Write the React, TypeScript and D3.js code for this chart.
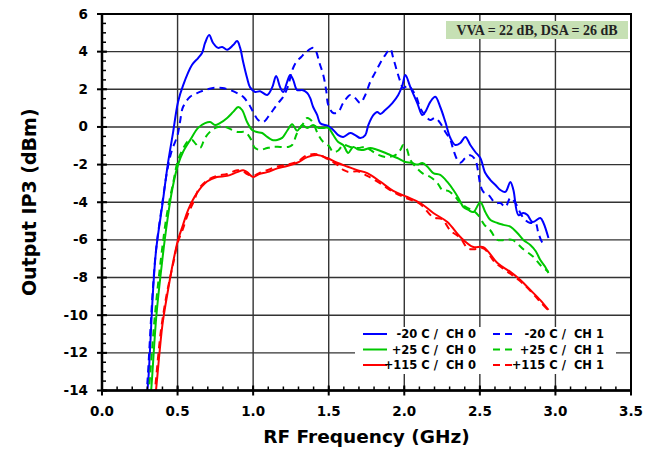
import React from "react";
import * as d3 from "d3";

type P = [number, number];

// -20 C / CH 0
const cold0: P[] = [[0.295,-14.3],[0.305,-13.6],[0.338,-8.66],[0.358,-6.54],[0.40,-4.1],[0.437,-1.9],[0.47,-0.3],[0.503,1.33],[0.536,2.2],[0.596,3.3],[0.636,3.66],[0.662,3.93],[0.682,4.46],[0.709,4.88],[0.735,4.46],[0.768,4.2],[0.795,4.25],[0.828,4.1],[0.868,4.35],[0.894,4.56],[0.914,4.2],[0.934,3.45],[0.96,2.6],[0.98,2.1],[1.013,1.86],[1.046,1.9],[1.093,1.7],[1.126,2.1],[1.152,2.7],[1.179,2.1],[1.199,1.85],[1.225,2.4],[1.245,2.76],[1.265,2.5],[1.291,1.96],[1.325,1.96],[1.358,1.8],[1.377,1.54],[1.397,1.06],[1.424,0.63],[1.444,0.2],[1.497,0.05],[1.53,-0.16],[1.563,-0.43],[1.596,-0.53],[1.642,-0.32],[1.675,-0.43],[1.709,-0.59],[1.742,-0.43],[1.762,0.1],[1.795,0.63],[1.821,0.8],[1.841,0.69],[1.874,0.9],[1.921,1.27],[1.96,1.7],[1.987,2.2],[2.007,2.76],[2.04,2.12],[2.086,1.27],[2.119,0.63],[2.139,0.8],[2.172,1.33],[2.205,1.6],[2.238,1.06],[2.272,0.26],[2.305,-0.59],[2.338,-0.96],[2.371,-0.85],[2.404,-0.53],[2.437,-0.96],[2.47,-1.33],[2.503,-1.65],[2.536,-2.45],[2.57,-2.82],[2.603,-3.08],[2.636,-3.35],[2.669,-3.45],[2.702,-2.92],[2.722,-3.35],[2.755,-4.68],[2.788,-4.57],[2.815,-4.68],[2.848,-5.05],[2.9,-4.84],[2.921,-5.1],[2.954,-5.9]];

// -20 C / CH 1
const cold1: P[] = [[0.292,-14.3],[0.30,-13.6],[0.335,-8.8],[0.358,-6.5],[0.40,-4.0],[0.43,-2.4],[0.46,-1.3],[0.50,-0.43],[0.516,0.26],[0.536,1.06],[0.583,1.6],[0.629,1.8],[0.682,1.96],[0.735,2.07],[0.795,2.07],[0.848,1.96],[0.894,1.8],[0.934,1.6],[0.967,1.27],[1.0,0.8],[1.033,0.37],[1.066,0.26],[1.099,0.53],[1.132,0.9],[1.166,1.27],[1.199,1.6],[1.232,2.2],[1.258,3.0],[1.285,3.45],[1.318,3.72],[1.351,3.98],[1.397,4.2],[1.417,4.0],[1.437,3.45],[1.464,2.76],[1.483,1.96],[1.497,1.17],[1.53,0.74],[1.563,0.8],[1.596,1.27],[1.642,1.7],[1.675,1.54],[1.709,1.27],[1.742,1.7],[1.775,2.4],[1.808,2.9],[1.841,3.4],[1.874,3.82],[1.907,4.14],[1.927,3.66],[1.954,2.9],[1.974,2.4],[1.993,2.07],[2.026,2.2],[2.053,1.96],[2.08,1.6],[2.106,1.0],[2.139,0.6],[2.172,0.37],[2.205,0.48],[2.238,0.2],[2.272,-0.27],[2.305,-0.69],[2.325,-1.22],[2.351,-1.75],[2.371,-1.9],[2.404,-1.65],[2.437,-1.5],[2.47,-1.75],[2.49,-2.45],[2.503,-3.08],[2.523,-3.45],[2.556,-3.6],[2.603,-4.04],[2.636,-4.04],[2.669,-4.25],[2.702,-3.77],[2.735,-4.04],[2.768,-4.57],[2.8,-4.94],[2.834,-5.1],[2.868,-5.1],[2.887,-5.63],[2.914,-6.16],[2.93,-6.27]];

// +25 C / CH 0
const room0: P[] = [[0.32,-14.3],[0.325,-14],[0.36,-10],[0.40,-7],[0.43,-5.1],[0.464,-3.35],[0.503,-2.0],[0.536,-1.33],[0.583,-0.7],[0.636,-0.05],[0.682,0.2],[0.715,0.26],[0.748,0.1],[0.78,0.2],[0.828,0.48],[0.868,0.8],[0.901,1.06],[0.927,0.9],[0.96,0.26],[0.993,-0.16],[1.026,-0.27],[1.06,-0.32],[1.093,-0.53],[1.126,-0.69],[1.159,-0.69],[1.192,-0.58],[1.225,-0.2],[1.258,0.15],[1.291,-0.2],[1.325,0.1],[1.358,-0.05],[1.397,0.1],[1.43,-0.05],[1.464,-0.05],[1.497,-0.05],[1.53,-0.43],[1.563,-0.8],[1.596,-0.96],[1.629,-1.38],[1.662,-1.06],[1.695,-1.2],[1.728,-1.22],[1.775,-1.12],[1.815,-1.2],[1.86,-1.33],[1.907,-1.49],[1.954,-1.65],[2.007,-1.86],[2.046,-1.9],[2.086,-2.0],[2.119,-1.92],[2.152,-2.1],[2.192,-2.45],[2.238,-2.55],[2.285,-2.92],[2.325,-3.35],[2.358,-3.77],[2.391,-4.25],[2.424,-4.41],[2.457,-4.52],[2.503,-4.0],[2.536,-4.52],[2.57,-4.94],[2.616,-5.1],[2.656,-5.2],[2.702,-5.3],[2.748,-5.63],[2.788,-6.0],[2.834,-6.27],[2.87,-6.6],[2.9,-7.07],[2.93,-7.4],[2.954,-7.76]];

// +25 C / CH 1
const room1: P[] = [[0.305,-14.3],[0.31,-14],[0.35,-10],[0.39,-7],[0.43,-4.6],[0.47,-3.0],[0.503,-1.76],[0.54,-1.1],[0.57,-0.75],[0.596,-0.69],[0.62,-0.9],[0.649,-1.12],[0.682,-0.58],[0.728,-0.16],[0.768,0],[0.815,0],[0.861,-0.16],[0.901,-0.27],[0.947,-0.27],[0.98,-0.58],[1.013,-1.12],[1.046,-1.22],[1.093,-1.12],[1.132,-1.06],[1.179,-1.06],[1.232,-1.06],[1.258,-0.96],[1.291,-0.32],[1.325,0.1],[1.358,0.48],[1.39,0.3],[1.43,-0.4],[1.464,-0.8],[1.5,-1.0],[1.53,-1.33],[1.563,-1.25],[1.596,-0.96],[1.642,-1.06],[1.695,-1.12],[1.742,-1.06],[1.775,-1.22],[1.82,-1.45],[1.88,-1.6],[1.94,-1.5],[1.974,-1.22],[1.993,-0.96],[2.013,-1.1],[2.04,-1.75],[2.073,-2.1],[2.119,-2.45],[2.172,-2.66],[2.219,-2.98],[2.252,-3.35],[2.291,-3.4],[2.338,-3.72],[2.371,-4.04],[2.417,-4.3],[2.457,-4.45],[2.49,-4.7],[2.53,-5.2],[2.57,-5.5],[2.616,-6.0],[2.67,-6.0],[2.715,-6.0],[2.788,-6.5],[2.854,-6.9],[2.9,-7.33],[2.954,-7.7]];

// +115 C / CH 0
const hot0: P[] = [[0.352,-14.3],[0.357,-14],[0.40,-10.5],[0.437,-8.66],[0.47,-7.2],[0.503,-6.0],[0.536,-5.2],[0.57,-4.4],[0.629,-3.5],[0.695,-2.9],[0.76,-2.66],[0.828,-2.6],[0.894,-2.4],[0.934,-2.3],[0.96,-2.4],[1.0,-2.66],[1.04,-2.5],[1.093,-2.4],[1.16,-2.2],[1.225,-2.07],[1.291,-1.9],[1.358,-1.6],[1.424,-1.49],[1.49,-1.65],[1.556,-1.9],[1.622,-2.1],[1.689,-2.3],[1.755,-2.45],[1.841,-2.9],[1.927,-3.4],[2.02,-3.72],[2.106,-4.04],[2.192,-4.57],[2.285,-5.05],[2.371,-5.85],[2.457,-6.38],[2.523,-6.38],[2.616,-7.23],[2.702,-7.7],[2.768,-8.13],[2.834,-8.66],[2.9,-9.2],[2.954,-9.72]];

// +115 C / CH 1
const hot1: P[] = [[0.345,-14.3],[0.35,-14],[0.39,-10.8],[0.43,-8.8],[0.47,-7.3],[0.503,-6.1],[0.536,-5.4],[0.57,-4.6],[0.61,-3.9],[0.64,-3.3],[0.695,-2.85],[0.76,-2.6],[0.828,-2.5],[0.894,-2.3],[0.934,-2.35],[0.96,-2.5],[1.0,-2.6],[1.04,-2.45],[1.093,-2.3],[1.16,-2.1],[1.225,-2.0],[1.291,-1.85],[1.358,-1.5],[1.424,-1.45],[1.49,-1.7],[1.556,-2.0],[1.6,-2.3],[1.64,-2.4],[1.689,-2.35],[1.755,-2.6],[1.841,-3.0],[1.927,-3.45],[2.02,-3.8],[2.106,-4.1],[2.192,-4.8],[2.25,-4.9],[2.305,-5.5],[2.371,-5.9],[2.42,-6.45],[2.457,-6.5],[2.523,-6.45],[2.6,-7.2],[2.65,-7.5],[2.702,-7.8],[2.768,-8.2],[2.834,-8.7],[2.9,-9.3],[2.954,-9.75]];

const seriesData: P[][] = [cold0, cold1, room0, room1, hot0, hot1];
const seriesLabels = ["-20 C /  CH 0", "-20 C /  CH 1", "+25 C /  CH 0", "+25 C /  CH 1", "+115 C /  CH 0", "+115 C /  CH 1"];
const seriesColors = ["#0000ff", "#0000ff", "#00c800", "#00c800", "#ff0000", "#ff0000"];
const seriesDashed = [false, true, false, true, false, true];

const xTicks = [0, 0.5, 1.0, 1.5, 2.0, 2.5, 3.0, 3.5];
const yTicks = [-14, -12, -10, -8, -6, -4, -2, 0, 2, 4, 6];
const xTitle = "RF Frequency (GHz)";
const yTitle = "Output IP3 (dBm)";
const note = "VVA = 22 dB, DSA = 26 dB";

export default function App() {
  const W = 660, H = 449;
  const L = 102, R = 631, T = 14, B = 390.5;
  const x = d3.scaleLinear().domain([0, 3.5]).range([L, R]);
  const y = d3.scaleLinear().domain([-14, 6]).range([B, T]);
  const line = d3.line<P>().x(d => x(d[0])).y(d => y(d[1])).curve(d3.curveCatmullRom.alpha(0.5));
  const xMinor = d3.range(0, 3.5001, 0.1);
  const yMinor = d3.range(-14, 6.001, 0.5);
  const font = "'DejaVu Sans', Verdana, sans-serif";

  const legX1 = [363, 493];
  const legTextEnd = [476, 604];
  const legY = [334, 349.5, 365];

  return (
    <svg width={W} height={H} style={{ position: "absolute", left: 0, top: 0, background: "#fff" }}>
      <defs>
        <clipPath id="plotclip">
          <rect x={L} y={T} width={R - L} height={B - T} />
        </clipPath>
      </defs>
      <rect x={0} y={0} width={W} height={H} fill="#fff" />
      {/* grid */}
      {xTicks.slice(1, -1).map(t => (
        <line key={"gx" + t} x1={x(t)} x2={x(t)} y1={T} y2={B} stroke="#333" strokeWidth={1.4} />
      ))}
      {yTicks.slice(1, -1).map(t => (
        <line key={"gy" + t} x1={L} x2={R} y1={y(t)} y2={y(t)} stroke="#333" strokeWidth={1.4} />
      ))}
      {/* legend background */}
      <rect x={355} y={327} width={261} height={47} fill="#fff" />
      {/* series */}
      <g clipPath="url(#plotclip)">
        {seriesData.map((s, i) => (
          <path key={"s" + i} d={line(s) || ""} fill="none" stroke={seriesColors[i]} strokeWidth={2}
            strokeDasharray={seriesDashed[i] ? "7,5" : undefined} strokeLinejoin="round" />
        ))}
      </g>
      {/* frame */}
      <rect x={L} y={T} width={R - L} height={B - T} fill="none" stroke="#000" strokeWidth={2} />
      <line x1={L} x2={L} y1={T} y2={B} stroke="#000" strokeWidth={2.5} />
      <line x1={L} x2={R} y1={B} y2={B} stroke="#000" strokeWidth={2.5} />
      {/* minor ticks */}
      {xMinor.map((t, i) => (
        <line key={"xm" + i} x1={x(t)} x2={x(t)} y1={B} y2={B - 4} stroke="#000" strokeWidth={1.5} />
      ))}
      {yMinor.map((t, i) => (
        <line key={"ym" + i} x1={L} x2={L + 4} y1={y(t)} y2={y(t)} stroke="#000" strokeWidth={1.5} />
      ))}
      {/* major ticks */}
      {xTicks.map(t => (
        <line key={"xM" + t} x1={x(t)} x2={x(t)} y1={B - 5} y2={B + 5} stroke="#000" strokeWidth={2} />
      ))}
      {yTicks.map(t => (
        <line key={"yM" + t} x1={L - 5} x2={L + 5} y1={y(t)} y2={y(t)} stroke="#000" strokeWidth={2} />
      ))}
      {/* tick labels */}
      {xTicks.map(t => (
        <text key={"xl" + t} x={x(t)} y={416} textAnchor="middle" fontFamily={font} fontWeight="bold" fontSize={13.5} fill="#000">
          {d3.format(".1f")(t)}
        </text>
      ))}
      {yTicks.map(t => (
        <text key={"yl" + t} x={88} y={y(t) + 4.5} textAnchor="end" fontFamily={font} fontWeight="bold" fontSize={13.5} fill="#000">
          {t}
        </text>
      ))}
      {/* axis titles */}
      <text x={(L + R) / 2} y={443} textAnchor="middle" fontFamily={font} fontWeight="bold" fontSize={18.5} fill="#000">{xTitle}</text>
      <text transform={`translate(36,${(T + B) / 2}) rotate(-90)`} textAnchor="middle" fontFamily={font} fontWeight="bold" fontSize={19} fill="#000">{yTitle}</text>
      {/* note box */}
      <rect x={446} y={21} width={182} height={18} fill="#c6e0b4" />
      <text x={537} y={35} textAnchor="middle" fontFamily="'Liberation Serif', 'Times New Roman', serif" fontWeight="bold" fontSize={14} fill="#222">{note}</text>
      {/* legend */}
      {seriesLabels.map((lab, i) => {
        const col = i % 2;
        const row = Math.floor(i / 2);
        const ly = legY[row];
        return (
          <g key={"lg" + i}>
            <line x1={legX1[col]} x2={legX1[col] + (col === 0 ? 24 : 22)} y1={ly} y2={ly} stroke={seriesColors[i]} strokeWidth={2}
              strokeDasharray={seriesDashed[i] ? "7,5" : undefined} />
            <text x={legTextEnd[col]} y={ly + 4} textAnchor="end" fontFamily={font} fontWeight="bold" fontSize={11.5} fill="#000" style={{ whiteSpace: "pre" }}>
              {lab}
            </text>
          </g>
        );
      })}
    </svg>
  );
}
